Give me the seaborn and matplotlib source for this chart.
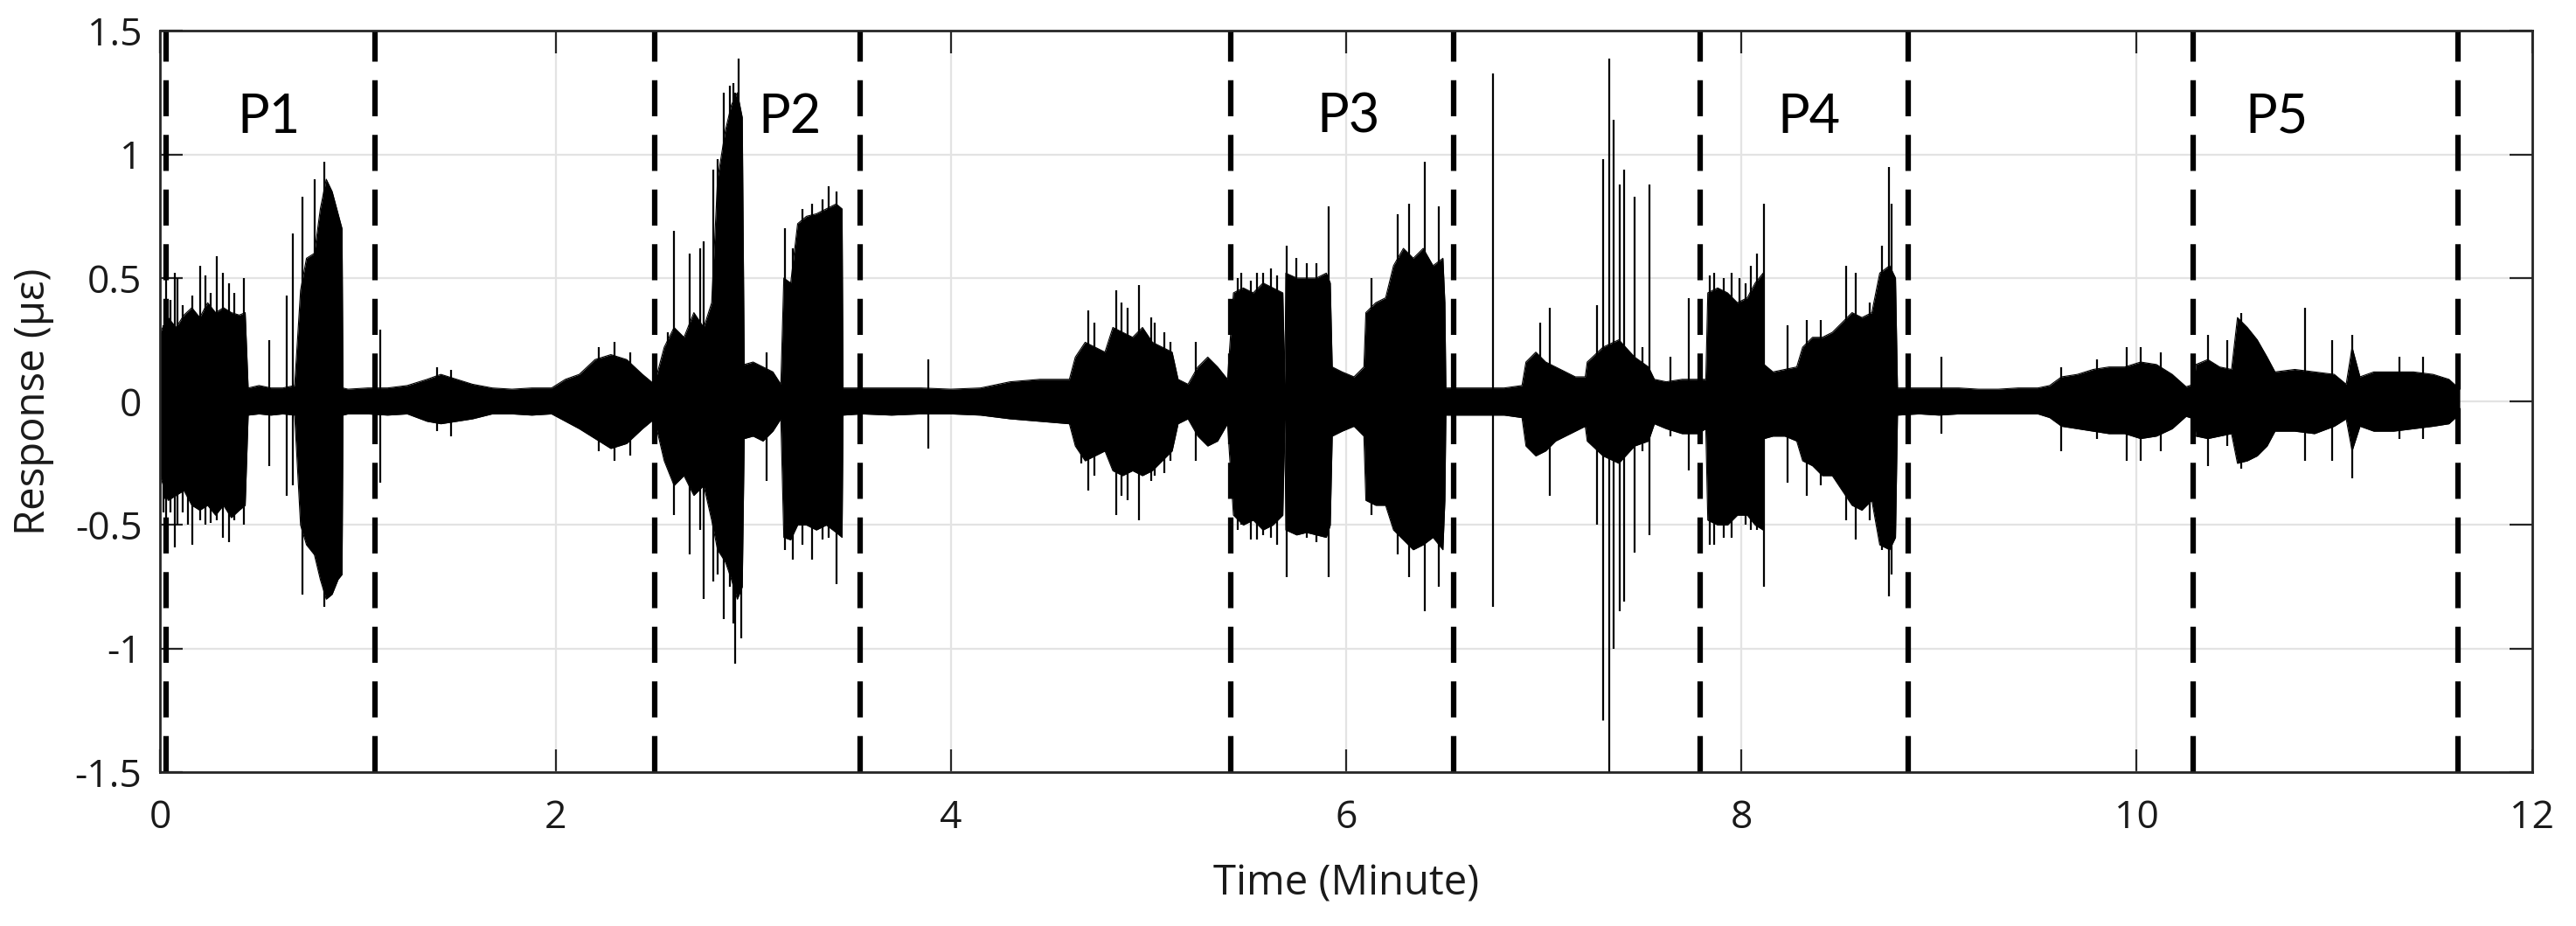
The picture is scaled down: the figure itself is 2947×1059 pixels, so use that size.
import numpy as np
import pandas as pd
import matplotlib
matplotlib.use("Agg")
import matplotlib.pyplot as plt
import seaborn as sns

# envelope of the dense strain record (minutes, upper / lower in micro-strain)
env_time = [0.00, 0.04, 0.08, 0.12, 0.16, 0.20, 0.24, 0.28, 0.32, 0.36, 0.40, 0.43,
            0.445, 0.50, 0.56, 0.62, 0.68,
            0.71, 0.74, 0.78, 0.81, 0.84, 0.87, 0.90, 0.92, 0.925,
            0.95, 1.05, 1.15, 1.25, 1.35, 1.42, 1.50, 1.58, 1.68, 1.78, 1.88, 1.98,
            2.05, 2.12, 2.20, 2.28, 2.36, 2.44, 2.50,
            2.55, 2.60, 2.65, 2.70, 2.75, 2.79, 2.82, 2.86, 2.89, 2.92, 2.945, 2.955,
            3.00, 3.05, 3.10, 3.14,
            3.155, 3.19, 3.225, 3.27, 3.32, 3.37, 3.42, 3.45, 3.455,
            3.55, 3.70, 3.85, 4.00, 4.15, 4.30, 4.45, 4.60,
            4.63, 4.68, 4.73, 4.78, 4.82, 4.87, 4.92, 4.97, 5.02, 5.07, 5.12, 5.15,
            5.20, 5.25, 5.30, 5.35, 5.40,
            5.43, 5.48, 5.53, 5.58, 5.63, 5.68, 5.69,
            5.695, 5.75, 5.80, 5.85, 5.90, 5.92, 5.93, 5.98, 6.04, 6.09,
            6.10, 6.15, 6.20, 6.24, 6.29, 6.34, 6.39, 6.44, 6.49, 6.50, 6.505,
            6.60, 6.70, 6.80, 6.89,
            6.91, 6.96, 7.01, 7.06, 7.11, 7.16, 7.21,
            7.22, 7.30, 7.38, 7.46, 7.53, 7.56,
            7.62, 7.70, 7.78, 7.82,
            7.83, 7.88, 7.93, 7.98, 8.03, 8.07, 8.11, 8.115,
            8.16, 8.22, 8.28, 8.31, 8.36, 8.41, 8.46, 8.51, 8.56, 8.61, 8.66,
            8.70, 8.75, 8.78, 8.79,
            8.90, 9.00, 9.10, 9.20, 9.30, 9.40, 9.50, 9.56, 9.62, 9.70, 9.78,
            9.86, 9.94, 10.02, 10.10, 10.18, 10.25, 10.29,
            10.30, 10.36, 10.42, 10.48, 10.51, 10.56, 10.61, 10.66, 10.70,
            10.80, 10.90, 11.00, 11.06, 11.09, 11.13, 11.20, 11.30, 11.40,
            11.50, 11.58, 11.635]
env_upper = [0.28, 0.34, 0.30, 0.35, 0.38, 0.34, 0.40, 0.36, 0.38, 0.36, 0.35, 0.36,
             0.055, 0.065, 0.055, 0.055, 0.065,
             0.45, 0.58, 0.60, 0.78, 0.90, 0.85, 0.76, 0.70, 0.055,
             0.05, 0.055, 0.055, 0.065, 0.09, 0.11, 0.09, 0.07, 0.055, 0.05, 0.055, 0.055,
             0.09, 0.11, 0.17, 0.19, 0.17, 0.11, 0.07,
             0.22, 0.30, 0.26, 0.36, 0.30, 0.40, 0.90, 1.10, 1.20, 1.25, 1.15, 0.15,
             0.16, 0.14, 0.12, 0.07,
             0.50, 0.48, 0.72, 0.75, 0.76, 0.78, 0.80, 0.78, 0.055,
             0.055, 0.055, 0.055, 0.05, 0.055, 0.08, 0.09, 0.09,
             0.18, 0.24, 0.22, 0.20, 0.30, 0.28, 0.26, 0.30, 0.24, 0.22, 0.20, 0.09,
             0.07, 0.14, 0.18, 0.14, 0.09,
             0.44, 0.46, 0.44, 0.48, 0.46, 0.44, 0.07,
             0.52, 0.50, 0.50, 0.50, 0.52, 0.48, 0.14, 0.12, 0.10, 0.14,
             0.36, 0.40, 0.42, 0.55, 0.62, 0.58, 0.62, 0.55, 0.58, 0.40, 0.055,
             0.055, 0.055, 0.055, 0.065,
             0.16, 0.20, 0.16, 0.14, 0.12, 0.10, 0.10,
             0.16, 0.22, 0.25, 0.18, 0.14, 0.09,
             0.08, 0.09, 0.09, 0.09,
             0.44, 0.46, 0.44, 0.40, 0.42, 0.48, 0.52, 0.15,
             0.12, 0.13, 0.14, 0.22, 0.26, 0.26, 0.28, 0.32, 0.36, 0.34, 0.36,
             0.52, 0.55, 0.50, 0.055,
             0.055, 0.055, 0.055, 0.05, 0.05, 0.055, 0.055, 0.065, 0.10, 0.11, 0.13,
             0.14, 0.14, 0.16, 0.15, 0.11, 0.06, 0.07,
             0.15, 0.17, 0.14, 0.13, 0.34, 0.30, 0.25, 0.18, 0.12,
             0.13, 0.12, 0.11, 0.07, 0.22, 0.10, 0.12, 0.12, 0.12,
             0.11, 0.09, 0.05]
env_lower = [-0.30, -0.40, -0.38, -0.36, -0.42, -0.44, -0.42, -0.46, -0.42, -0.47, -0.44, -0.42,
             -0.055, -0.05, -0.055, -0.05, -0.055,
             -0.50, -0.58, -0.62, -0.72, -0.80, -0.78, -0.72, -0.70, -0.055,
             -0.05, -0.05, -0.055, -0.05, -0.08, -0.09, -0.08, -0.07, -0.05, -0.05, -0.055, -0.05,
             -0.08, -0.11, -0.15, -0.19, -0.17, -0.11, -0.07,
             -0.24, -0.34, -0.30, -0.38, -0.34, -0.48, -0.60, -0.65, -0.72, -0.80, -0.75, -0.15,
             -0.14, -0.16, -0.12, -0.07,
             -0.55, -0.56, -0.50, -0.50, -0.52, -0.50, -0.53, -0.55, -0.055,
             -0.05, -0.055, -0.05, -0.05, -0.055, -0.07, -0.08, -0.09,
             -0.18, -0.24, -0.22, -0.20, -0.28, -0.30, -0.28, -0.30, -0.28, -0.24, -0.20, -0.09,
             -0.07, -0.14, -0.18, -0.16, -0.09,
             -0.46, -0.50, -0.48, -0.52, -0.50, -0.46, -0.07,
             -0.52, -0.54, -0.53, -0.54, -0.55, -0.50, -0.14, -0.12, -0.10, -0.14,
             -0.40, -0.42, -0.42, -0.52, -0.56, -0.60, -0.58, -0.55, -0.60, -0.40, -0.055,
             -0.055, -0.055, -0.055, -0.065,
             -0.18, -0.22, -0.20, -0.16, -0.14, -0.12, -0.10,
             -0.16, -0.22, -0.25, -0.18, -0.16, -0.09,
             -0.11, -0.13, -0.13, -0.11,
             -0.48, -0.50, -0.50, -0.46, -0.46, -0.50, -0.52, -0.15,
             -0.14, -0.14, -0.16, -0.24, -0.26, -0.30, -0.30, -0.36, -0.42, -0.44, -0.40,
             -0.58, -0.60, -0.55, -0.055,
             -0.05, -0.055, -0.05, -0.05, -0.05, -0.05, -0.05, -0.065, -0.10, -0.11, -0.12,
             -0.13, -0.13, -0.15, -0.14, -0.11, -0.06, -0.07,
             -0.14, -0.15, -0.14, -0.13, -0.25, -0.24, -0.22, -0.18, -0.12,
             -0.12, -0.13, -0.10, -0.07, -0.20, -0.10, -0.12, -0.12, -0.11,
             -0.10, -0.09, -0.05]

# isolated peaks sticking out of the envelope
spike_time = [0.016, 0.03, 0.05, 0.075, 0.089, 0.114, 0.138, 0.164, 0.203, 0.227,
              0.257, 0.286, 0.316, 0.346, 0.375, 0.425,
              0.55, 0.64, 0.67, 0.72, 0.78, 0.83, 1.115, 1.40, 1.47,
              2.22, 2.30, 2.38,
              2.57, 2.60, 2.68, 2.73, 2.75, 2.80, 2.82, 2.853, 2.883, 2.902, 2.91, 2.926,
              2.94, 3.07,
              3.16, 3.20, 3.25, 3.30, 3.35, 3.38, 3.42, 3.884,
              4.66, 4.697, 4.727, 4.835, 4.865, 4.895, 4.95, 5.013, 5.033, 5.08, 5.112, 5.24,
              5.45, 5.47, 5.52, 5.55, 5.58, 5.62, 5.65, 5.70, 5.75, 5.80, 5.85, 5.91,
              6.13, 6.26, 6.32, 6.40, 6.47, 6.744,
              6.98, 7.03, 7.27, 7.30, 7.33, 7.355, 7.385, 7.405, 7.46, 7.50, 7.535,
              7.64, 7.735,
              7.84, 7.86, 7.91, 7.95, 7.99, 8.02, 8.05, 8.08, 8.115, 8.235, 8.33,
              8.40, 8.53, 8.58, 8.65, 8.71, 8.745, 8.76,
              9.01, 9.62, 9.80, 9.95, 10.02, 10.12, 10.36, 10.46, 10.53, 10.85,
              10.99, 11.09, 11.33, 11.45]
spike_top = [0.31, 0.51, 0.41, 0.52, 0.50, 0.39, 0.36, 0.43, 0.55, 0.51,
             0.44, 0.59, 0.52, 0.48, 0.44, 0.50,
             0.25, 0.43, 0.68, 0.83, 0.90, 0.97, 0.29, 0.14, 0.13,
             0.22, 0.24, 0.20,
             0.28, 0.69, 0.60, 0.62, 0.65, 0.94, 0.98, 1.25, 1.28, 1.29, 1.25, 1.39,
             0.30, 0.20,
             0.70, 0.62, 0.78, 0.80, 0.82, 0.87, 0.85, 0.17,
             0.20, 0.37, 0.32, 0.45, 0.40, 0.38, 0.47, 0.34, 0.32, 0.28, 0.24, 0.24,
             0.50, 0.52, 0.49, 0.52, 0.52, 0.54, 0.51, 0.63, 0.58, 0.56, 0.56, 0.79,
             0.50, 0.76, 0.80, 0.97, 0.79, 1.33,
             0.32, 0.38, 0.39, 0.98, 1.39, 1.14, 0.88, 0.94, 0.83, 0.22, 0.88,
             0.18, 0.42,
             0.51, 0.52, 0.50, 0.52, 0.50, 0.48, 0.55, 0.60, 0.80, 0.31, 0.33,
             0.33, 0.55, 0.52, 0.40, 0.63, 0.95, 0.80,
             0.18, 0.14, 0.17, 0.22, 0.22, 0.20, 0.27, 0.25, 0.36, 0.38,
             0.25, 0.27, 0.18, 0.18]
spike_bottom = [-0.45, -0.53, -0.45, -0.59, -0.50, -0.45, -0.50, -0.58, -0.48, -0.50,
                -0.49, -0.48, -0.55, -0.57, -0.48, -0.50,
                -0.26, -0.38, -0.34, -0.78, -0.62, -0.83, -0.33, -0.12, -0.14,
                -0.20, -0.24, -0.22,
                -0.24, -0.46, -0.62, -0.52, -0.80, -0.73, -0.70, -0.88, -0.75, -0.90, -1.06, -0.70,
                -0.96, -0.32,
                -0.60, -0.64, -0.58, -0.64, -0.56, -0.55, -0.74, -0.19,
                -0.25, -0.36, -0.30, -0.46, -0.38, -0.40, -0.48, -0.32, -0.30, -0.29, -0.24, -0.24,
                -0.52, -0.50, -0.56, -0.56, -0.54, -0.55, -0.58, -0.71, -0.53, -0.55, -0.57, -0.71,
                -0.46, -0.62, -0.71, -0.85, -0.75, -0.83,
                -0.20, -0.38, -0.50, -1.29, -1.50, -1.00, -0.85, -0.81, -0.61, -0.20, -0.54,
                -0.14, -0.28,
                -0.58, -0.58, -0.55, -0.55, -0.46, -0.50, -0.52, -0.52, -0.75, -0.33, -0.38,
                -0.34, -0.48, -0.56, -0.48, -0.60, -0.79, -0.70,
                -0.13, -0.20, -0.15, -0.24, -0.24, -0.20, -0.26, -0.18, -0.27, -0.24,
                -0.24, -0.31, -0.15, -0.15]

# phase boundaries and labels
boundaries = [0.03, 1.086, 2.503, 3.54, 5.418, 6.543, 7.791, 8.844, 10.287, 11.628]
phase_names = ["P1", "P2", "P3", "P4", "P5"]
phase_x = [0.55, 3.185, 6.01, 8.34, 10.71]
phase_y = 1.15

x_ticks = [0, 2, 4, 6, 8, 10, 12]
y_ticks = [-1.5, -1, -0.5, 0, 0.5, 1, 1.5]
y_tick_labels = ["-1.5", "-1", "-0.5", "0", "0.5", "1", "1.5"]


sns.set_theme(style="whitegrid", rc={
    "grid.color": "#e3e3e3",
    "grid.linewidth": 1.6,
    "axes.edgecolor": "#262626",
    "axes.linewidth": 2.0,
})
plt.rcParams["font.family"] = ["Open Sans", "DejaVu Sans"]
plt.rcParams["axes.unicode_minus"] = False

fig = plt.figure(figsize=(29.47, 10.59), dpi=100)
ax = fig.add_axes([0.0622, 0.1662, 0.9207, 0.8003])

env = pd.DataFrame({"time": env_time, "upper": env_upper, "lower": env_lower})
ax.fill_between(env["time"], env["lower"], env["upper"], color="black", lw=0, zorder=3)
sns.lineplot(data=env, x="time", y="upper", color="black", lw=0.8, ax=ax, zorder=3)
sns.lineplot(data=env, x="time", y="lower", color="black", lw=0.8, ax=ax, zorder=3)
ax.vlines(spike_time, spike_bottom, spike_top, color="black", lw=1.6, zorder=3)

for b in boundaries:
    ax.axvline(b, color="black", lw=4.5, linestyle=(0, (6.6, 3.4)), zorder=4)

for name, px in zip(phase_names, phase_x):
    ax.text(px, phase_y, name, fontsize=44, ha="center", va="center",
            family=["Lato", "DejaVu Sans"], color="black", zorder=5)

ax.set_xlim(0, 12)
ax.set_ylim(-1.5, 1.5)
ax.set_xticks(x_ticks)
ax.set_yticks(y_ticks)
ax.set_yticklabels(y_tick_labels)
ax.tick_params(axis="both", which="both", direction="in", length=19, width=1.6,
               colors="#262626", labelcolor="#1a1a1a", labelsize=32,
               top=True, right=True, bottom=True, left=True)
ax.tick_params(axis="x", pad=22)
ax.tick_params(axis="y", pad=15)
ax.set_xlabel("Time (Minute)", fontsize=34, color="#1a1a1a", labelpad=21)
ax.set_ylabel("Response (με)", fontsize=34, color="#1a1a1a", labelpad=17)
for s in ax.spines.values():
    s.set_visible(True)
    s.set_zorder(6)
ax.grid(True, zorder=0)

fig.savefig("out.png", dpi=100, facecolor="white")
